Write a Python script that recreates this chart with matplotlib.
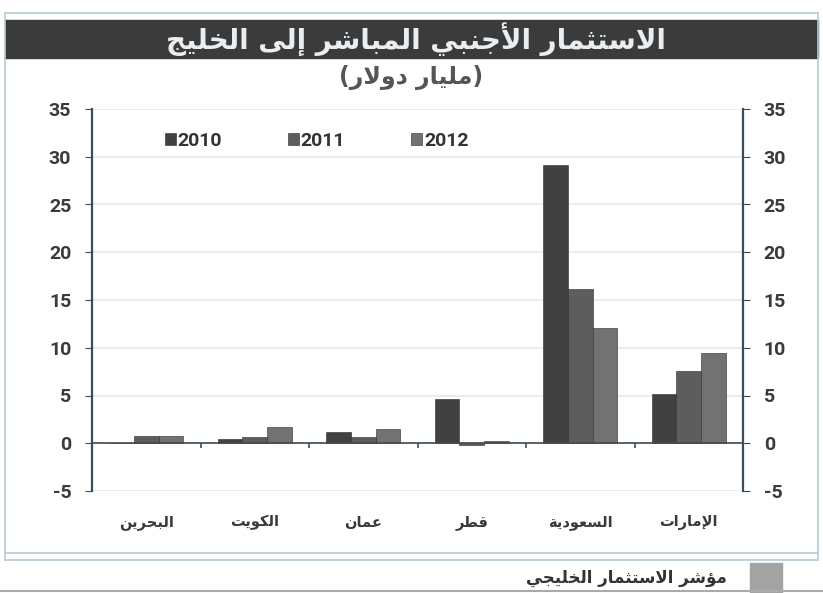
import numpy as np
import matplotlib
matplotlib.use('Agg')
import matplotlib.pyplot as plt
from matplotlib.patches import Rectangle
from matplotlib.lines import Line2D

# data (left to right as drawn)
categories = ["البحرين", "الكويت", "عمان", "قطر", "السعودية", "الإمارات"]
years = ["2010", "2011", "2012"]
v2010 = [0.05, 0.4, 1.15, 4.6, 29.1, 5.2]
v2011 = [0.75, 0.7, 0.7, -0.2, 16.2, 7.6]
v2012 = [0.8, 1.65, 1.45, 0.25, 12.1, 9.5]

title = "الاستثمار الأجنبي المباشر إلى الخليج"
subtitle = "(مليار دولار)"
footer = "مؤشر الاستثمار الخليجي"

# minimal arabic shaping (matplotlib has no complex text layout)
FORMS = {
    'ا': (0xFE8D, 0xFE8E, None, None), 'أ': (0xFE83, 0xFE84, None, None),
    'إ': (0xFE87, 0xFE88, None, None), 'آ': (0xFE81, 0xFE82, None, None),
    'ؤ': (0xFE85, 0xFE86, None, None), 'ة': (0xFE93, 0xFE94, None, None),
    'د': (0xFEA9, 0xFEAA, None, None), 'ذ': (0xFEAB, 0xFEAC, None, None),
    'ر': (0xFEAD, 0xFEAE, None, None), 'ز': (0xFEAF, 0xFEB0, None, None),
    'و': (0xFEED, 0xFEEE, None, None), 'ى': (0xFEEF, 0xFEF0, None, None),
    'ب': (0xFE8F, 0xFE90, 0xFE91, 0xFE92), 'ت': (0xFE95, 0xFE96, 0xFE97, 0xFE98),
    'ث': (0xFE99, 0xFE9A, 0xFE9B, 0xFE9C), 'ج': (0xFE9D, 0xFE9E, 0xFE9F, 0xFEA0),
    'ح': (0xFEA1, 0xFEA2, 0xFEA3, 0xFEA4), 'خ': (0xFEA5, 0xFEA6, 0xFEA7, 0xFEA8),
    'س': (0xFEB1, 0xFEB2, 0xFEB3, 0xFEB4), 'ش': (0xFEB5, 0xFEB6, 0xFEB7, 0xFEB8),
    'ط': (0xFEC1, 0xFEC2, 0xFEC3, 0xFEC4), 'ع': (0xFEC9, 0xFECA, 0xFECB, 0xFECC),
    'ق': (0xFED5, 0xFED6, 0xFED7, 0xFED8), 'ك': (0xFED9, 0xFEDA, 0xFEDB, 0xFEDC),
    'ل': (0xFEDD, 0xFEDE, 0xFEDF, 0xFEE0), 'م': (0xFEE1, 0xFEE2, 0xFEE3, 0xFEE4),
    'ن': (0xFEE5, 0xFEE6, 0xFEE7, 0xFEE8), 'ه': (0xFEE9, 0xFEEA, 0xFEEB, 0xFEEC),
    'ي': (0xFEF1, 0xFEF2, 0xFEF3, 0xFEF4),
}
LAM_ALEF = {'ا': (0xFEFB, 0xFEFC), 'أ': (0xFEF7, 0xFEF8),
            'إ': (0xFEF9, 0xFEFA), 'آ': (0xFEF5, 0xFEF6)}


def dual(c):
    return c in FORMS and FORMS[c][2] is not None


def shape(text):
    out = []
    i = 0
    n = len(text)
    while i < n:
        c = text[i]
        prev = text[i - 1] if i > 0 else ''
        joins_prev = dual(prev)
        if c == 'ل' and i + 1 < n and text[i + 1] in LAM_ALEF:
            iso, fin = LAM_ALEF[text[i + 1]]
            out.append(chr(fin if joins_prev else iso))
            i += 2
            continue
        if c not in FORMS:
            out.append(c)
            i += 1
            continue
        nxt = text[i + 1] if i + 1 < n else ''
        joins_next = dual(c) and nxt in FORMS
        iso, fin, ini, med = FORMS[c]
        if joins_prev and joins_next:
            g = med
        elif joins_prev:
            g = fin
        elif joins_next:
            g = ini
        else:
            g = iso
        out.append(chr(g))
        i += 1
    vis = ''.join(reversed(out))
    return vis.translate(str.maketrans('()', ')('))


plt.rcParams['font.family'] = ['Roboto', 'DejaVu Sans']
plt.rcParams['font.weight'] = 'bold'
plt.rcParams['axes.unicode_minus'] = False
AR = ['DejaVu Sans']

W, H = 823, 593
fig = plt.figure(figsize=(W / 100, H / 100), dpi=100)
fig.patch.set_facecolor('white')


def fx(px):
    return px / W


def fy(py):
    return 1 - py / H


# outer frame
frame_c = '#b9cad6'
for (x0, y0, x1, y1) in [(5, 13, 818, 13), (5, 13, 5, 560), (818, 13, 818, 560),
                         (5, 553, 818, 553), (5, 560, 818, 560)]:
    fig.add_artist(Line2D([fx(x0), fx(x1)], [fy(y0), fy(y1)], color=frame_c, lw=1.2))
fig.add_artist(Line2D([0, 1], [fy(591), fy(591)], color='#aaaaaa', lw=1.5))

# title bar
fig.add_artist(Rectangle((fx(5), fy(58)), fx(813), 38 / H, color='#3b3b3b'))
fig.text(0.505, fy(39), shape(title), color='#e8eef2', fontsize=20, fontweight='bold',
         ha='center', va='center', family=AR)
fig.text(0.5, fy(78), shape(subtitle), color='#555555', fontsize=17, fontweight='bold',
         ha='center', va='center', family=AR)

# footer
fig.add_artist(Rectangle((fx(750), fy(593)), 32 / W, 30 / H, color='#a3a3a3'))
fig.text(fx(727), fy(578), shape(footer), color='#333333', fontsize=12, fontweight='bold',
         ha='right', va='center', family=AR)

ax = fig.add_axes([fx(92), fy(491), fx(743 - 92), (491 - 109) / H])
x = np.arange(len(categories))
w = 0.227
colors = ['#414141', '#5d5d5d', '#727272']
series = [v2010, v2011, v2012]
for k, (vals, yr) in enumerate(zip(series, years)):
    ax.bar(x + (k - 1) * w, vals, w, color=colors[k], edgecolor='#2a2a2a', linewidth=0.4,
           label=yr, zorder=3)

ax.set_xlim(-0.5, len(categories) - 0.5)
ax.set_ylim(-5, 35)
ax.set_yticks(np.arange(-5, 36, 5))
ax.grid(axis='y', color='#e2ebf1', lw=1.2, zorder=0)
ax.set_axisbelow(True)

axis_c = '#3e4c58'
for s in ['top', 'bottom']:
    ax.spines[s].set_visible(False)
for s in ['left', 'right']:
    ax.spines[s].set_color(axis_c)
    ax.spines[s].set_linewidth(1.6)
ax.axhline(0, color=axis_c, lw=1.2, zorder=4)
ax.vlines(x[:-1] + 0.5, -0.45, 0, color=axis_c, lw=1.2, zorder=4)

ax.tick_params(axis='y', left=True, right=True, labelleft=True, labelright=True,
               direction='out', length=5, color=axis_c, labelsize=14,
               labelcolor='#3a3a3a', pad=10)
ax.set_xticks(x)
ax.set_xticklabels([shape(c) for c in categories], fontsize=10.5, fontweight='bold',
                   color='#3a3a3a', family=AR)
ax.tick_params(axis='x', length=0, pad=17)

leg = ax.legend(loc='center left', bbox_to_anchor=(0.085, 0.916), ncol=3, frameon=False,
                handlelength=0.55, handleheight=0.55, handletextpad=0.1,
                columnspacing=3.4, prop={'weight': 'bold', 'size': 14})
for t in leg.get_texts():
    t.set_color('#333333')

fig.savefig('out.png', dpi=100, facecolor='white')
